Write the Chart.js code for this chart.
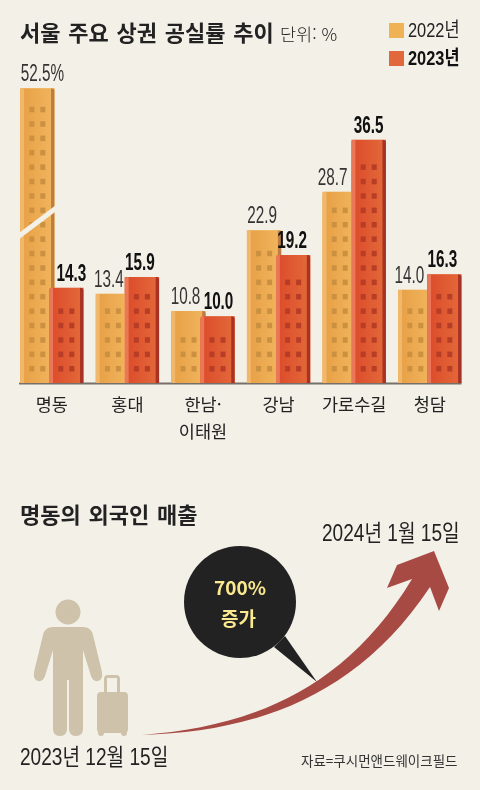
<!DOCTYPE html>
<html lang="ko">
<head>
<meta charset="utf-8">
<title>서울 주요 상권 공실률 추이</title>
<script src="https://cdn.jsdelivr.net/npm/chart.js@4/dist/chart.umd.js"></script>
<style>
  html, body { margin: 0; padding: 0; background: #f3f0e8; }
  #page { position: relative; width: 480px; height: 790px; overflow: hidden; color: #222;
    font-family: "Noto Sans CJK KR", "Noto Sans", sans-serif; }
  #chart-wrap { position: absolute; left: 0; top: 0; width: 480px; height: 450px; }
  #art { position: absolute; left: 0; top: 0; }
  .t { position: absolute; white-space: nowrap; line-height: 1; transform-origin: 0 50%; }
  .num { font-family: "Liberation Sans", "Noto Sans CJK KR", sans-serif; }
  .title { font-weight: 700; font-size: 22px; word-spacing: 1.6px; color: #222; }
  .swatch { position: absolute; width: 15px; height: 15px; }
</style>
</head>
<body>
<div id="page">
  <div id="chart-wrap"><canvas id="chart" width="480" height="450"></canvas></div>

  <svg id="art" width="480" height="790" viewBox="0 0 480 790">
    <!-- traveller -->
    <g fill="#cec2aa">
      <circle cx="68" cy="612" r="12.5"/>
      <path d="M53 627 H83 Q91 627 93 635 L102 672 Q103 680 98 681 Q93 682 91 676 L83 650 V729 Q83 736 76 736 Q70 736 69 730 V680 H67 V730 Q66 736 60 736 Q53 736 53 729 V650 L45 676 Q43 682 38 681 Q33 680 34 672 L43 635 Q45 627 53 627 Z"/>
      <path d="M104 693 V679 Q104 675 108 675 H116 Q120 675 120 679 V693 H117 V678 H107 V693 Z"/>
      <rect x="97" y="692" width="31" height="41" rx="4"/>
      <circle cx="101" cy="733" r="3"/>
      <circle cx="124" cy="733" r="3"/>
    </g>
    <!-- speech bubble -->
    <path d="M274 647 L317 682 L285 636 Z" fill="#222"/>
    <circle cx="240" cy="602" r="56" fill="#222"/>
    <!-- growth arrow -->
    <path d="M142 735 C250 727 345 690 412 579 L387 588 L397 565 L434 551 L449 588 L439 611 L430 587 C355 700 250 732 142 735 Z" fill="#a84a44"/>
  </svg>

  <div class="t title" style="left:20px;top:20px">서울 주요 상권 공실률 추이</div>
  <div class="t" style="left:280px;top:25px;font-size:17.5px;font-weight:300">단위: %</div>

  <div id="legend"></div>

  <div class="t title" style="left:20px;top:502px">명동의 외국인 매출</div>
  <div class="t num" style="left:322px;top:522px;font-size:23px;transform:scaleX(.83)">2024년 1월 15일</div>
  <div class="t num" style="left:20px;top:746px;font-size:23px;transform:scaleX(.83)">2023년 12월 15일</div>
  <div class="t" style="left:301px;top:754px;font-size:13.5px;color:#333">자료=쿠시먼앤드웨이크필드</div>
  <div class="t" style="left:214px;top:577px;font-size:19px;font-weight:700;color:#fbe98f">700%</div>
  <div class="t" style="left:221px;top:608px;font-size:19px;font-weight:700;color:#fbe98f">증가</div>
</div>

<script>
const districts = ['명동', '홍대', ['한남·', '이태원'], '강남', '가로수길', '청담'];
const years = ['2022년', '2023년'];
const vacancy2022 = [52.5, 13.4, 10.8, 22.9, 28.7, 14.0];
const vacancy2023 = [14.3, 15.9, 10.0, 19.2, 36.5, 16.3];

// the 명동 2022 bar is cut in the original, so values above this are squeezed
const breakFrom = 37;
const breakRatio = 0.465;
const slashAt = 24.1;

const label2022Shift = [5, -4, -3, -2, -7, -6];
const label2023Shift = [5, -2, 1, -1, 0, -2];
const labelSquash = 0.65;

const paints = [
  { swatch: '#efb255', left: '#f1b86c', from: '#e79f45', to: '#f1b65e', right: '#bd7d42', win: '#cb9140' },
  { swatch: '#e1683b', left: '#ea7757', from: '#dc4a2a', to: '#e36a3a', right: '#a83325', win: '#b83d26' },
];

const legend = document.getElementById('legend');
years.forEach((y, i) => {
  const top = 23 + i * 28;
  legend.innerHTML += `<div class="swatch" style="left:389px;top:${top}px;background:${paints[i].swatch}"></div>
    <div class="t num" style="left:408px;top:${top - 3}px;font-size:20px;transform:scaleX(.82);${i ? 'font-weight:700;color:#111' : ''}">${y}</div>`;
});

class BrokenScale extends Chart.LinearScale {
  getPixelForValue(value) {
    const v = value > breakFrom ? breakFrom + (value - breakFrom) * breakRatio : value;
    return super.getPixelForValue(v);
  }
}
BrokenScale.id = 'brokenLinear';
BrokenScale.defaults = Chart.LinearScale.defaults;
Chart.register(BrokenScale);

function paintBuilding(ctx, bar, p, base) {
  const x = bar.x - bar.width / 2;
  const w = bar.width;
  const h = base - bar.y;
  ctx.save();
  ctx.beginPath();
  ctx.roundRect(x, bar.y, w, h, [3, 3, 0, 0]);
  ctx.clip();
  const g = ctx.createLinearGradient(x, 0, x + w, 0);
  g.addColorStop(0, p.from);
  g.addColorStop(1, p.to);
  ctx.fillStyle = g;
  ctx.fillRect(x, bar.y, w, h);
  ctx.fillStyle = p.left;
  ctx.fillRect(x, bar.y, 4, h);
  ctx.fillStyle = p.right;
  ctx.fillRect(x + w - 3.5, bar.y, 3.5, h);
  ctx.fillStyle = p.win;
  for (let wy = base - 14; wy - bar.y > 17; wy -= 14.4) {
    ctx.fillRect(bar.x - 8, wy - 3, 5, 5.5);
    ctx.fillRect(bar.x + 3, wy - 3, 5, 5.5);
  }
  ctx.restore();
}

function squashedText(ctx, txt, x, y) {
  ctx.save();
  ctx.translate(x, y);
  ctx.scale(labelSquash, 1);
  ctx.fillText(txt, 0, 0);
  ctx.restore();
}

const buildings = {
  id: 'buildings',
  afterDatasetsDraw(chart) {
    const { ctx, scales: { y } } = chart;
    const base = y.getPixelForValue(0);
    const metas = [chart.getDatasetMeta(0), chart.getDatasetMeta(1)];

    // ground line runs from the first to the last building
    const first = metas[0].data[0];
    const last = metas[1].data[metas[1].data.length - 1];
    ctx.fillStyle = '#77706a';
    ctx.fillRect(first.x - first.width / 2 - 1, base - 0.5, last.x + last.width / 2 - first.x + first.width / 2 + 1, 2);

    metas.forEach((meta, i) => meta.data.forEach((bar) => paintBuilding(ctx, bar, paints[i], base)));

    // break mark across the tall bar
    const sy = y.getPixelForValue(slashAt);
    ctx.strokeStyle = '#f3f0e8';
    ctx.lineWidth = 5;
    ctx.beginPath();
    ctx.moveTo(first.x - first.width / 2 - 4, sy + 16);
    ctx.lineTo(first.x + first.width / 2 + 4, sy - 16);
    ctx.stroke();

    // value labels
    ctx.textAlign = 'center';
    ctx.textBaseline = 'alphabetic';
    metas[0].data.forEach((bar, i) => {
      ctx.font = '400 23.5px "Liberation Sans", sans-serif';
      ctx.fillStyle = '#333';
      const txt = i === 0 ? vacancy2022[i].toFixed(1) + '%' : vacancy2022[i].toFixed(1);
      squashedText(ctx, txt, bar.x + label2022Shift[i], bar.y - 7);
    });
    metas[1].data.forEach((bar, i) => {
      ctx.font = '700 23.5px "Liberation Sans", sans-serif';
      ctx.fillStyle = '#111';
      squashedText(ctx, vacancy2023[i].toFixed(1), bar.x + label2023Shift[i], bar.y - 7);
    });
  },
};

new Chart(document.getElementById('chart'), {
  type: 'bar',
  data: {
    labels: districts,
    datasets: [
      { label: years[0], data: vacancy2022, backgroundColor: paints[0].swatch },
      { label: years[1], data: vacancy2023, backgroundColor: paints[1].swatch },
    ],
  },
  options: {
    responsive: false,
    animation: false,
    categoryPercentage: 0.767,
    barPercentage: 1.19,
    layout: { padding: { left: 14, right: 12.4, top: 83, bottom: 0 } },
    plugins: { legend: { display: false }, tooltip: { enabled: false }, title: { display: false } },
    scales: {
      x: {
        grid: { display: false },
        border: { display: false },
        afterFit(scale) { scale.height = 67; },
        ticks: {
          color: '#222',
          padding: 0,
          autoSkip: false,
          maxRotation: 0,
          font: { family: '"Noto Sans CJK KR"', size: 17.5, weight: 400, lineHeight: 1.55 },
        },
      },
      y: { type: 'brokenLinear', display: false, min: 0, max: 45 },
    },
  },
  plugins: [buildings],
});
</script>
</body>
</html>
